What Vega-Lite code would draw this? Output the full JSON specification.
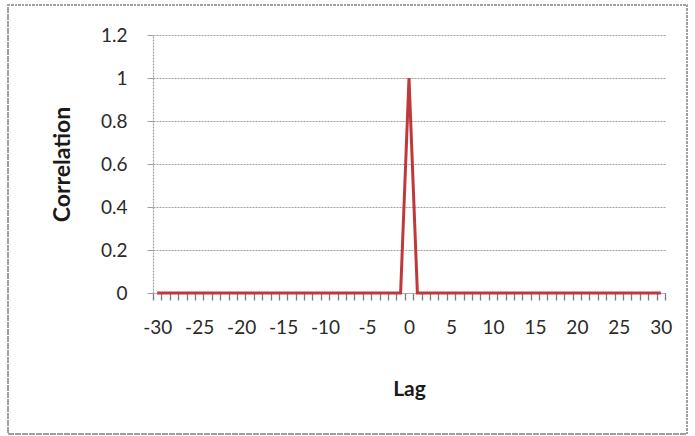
{
  "$schema": "https://vega.github.io/schema/vega-lite/v6.json",
  "width": 512,
  "height": 258,
  "autosize": "none",
  "padding": {"left": 153, "top": 35, "right": 30, "bottom": 143},
  "background": "white",
  "config": {
    "view": {"stroke": null},
    "font": "Lato",
    "axis": {"labelFont": "Lato", "titleFont": "Lato"}
  },
  "data": {
    "values": [
      {"lag": -30, "corr": 0}, {"lag": -29, "corr": 0}, {"lag": -28, "corr": 0}, {"lag": -27, "corr": 0},
      {"lag": -26, "corr": 0}, {"lag": -25, "corr": 0}, {"lag": -24, "corr": 0}, {"lag": -23, "corr": 0},
      {"lag": -22, "corr": 0}, {"lag": -21, "corr": 0}, {"lag": -20, "corr": 0}, {"lag": -19, "corr": 0},
      {"lag": -18, "corr": 0}, {"lag": -17, "corr": 0}, {"lag": -16, "corr": 0}, {"lag": -15, "corr": 0},
      {"lag": -14, "corr": 0}, {"lag": -13, "corr": 0}, {"lag": -12, "corr": 0}, {"lag": -11, "corr": 0},
      {"lag": -10, "corr": 0}, {"lag": -9, "corr": 0}, {"lag": -8, "corr": 0}, {"lag": -7, "corr": 0},
      {"lag": -6, "corr": 0}, {"lag": -5, "corr": 0}, {"lag": -4, "corr": 0}, {"lag": -3, "corr": 0},
      {"lag": -2, "corr": 0}, {"lag": -1, "corr": 0}, {"lag": 0, "corr": 1}, {"lag": 1, "corr": 0},
      {"lag": 2, "corr": 0}, {"lag": 3, "corr": 0}, {"lag": 4, "corr": 0}, {"lag": 5, "corr": 0},
      {"lag": 6, "corr": 0}, {"lag": 7, "corr": 0}, {"lag": 8, "corr": 0}, {"lag": 9, "corr": 0},
      {"lag": 10, "corr": 0}, {"lag": 11, "corr": 0}, {"lag": 12, "corr": 0}, {"lag": 13, "corr": 0},
      {"lag": 14, "corr": 0}, {"lag": 15, "corr": 0}, {"lag": 16, "corr": 0}, {"lag": 17, "corr": 0},
      {"lag": 18, "corr": 0}, {"lag": 19, "corr": 0}, {"lag": 20, "corr": 0}, {"lag": 21, "corr": 0},
      {"lag": 22, "corr": 0}, {"lag": 23, "corr": 0}, {"lag": 24, "corr": 0}, {"lag": 25, "corr": 0},
      {"lag": 26, "corr": 0}, {"lag": 27, "corr": 0}, {"lag": 28, "corr": 0}, {"lag": 29, "corr": 0},
      {"lag": 30, "corr": 0}
    ]
  },
  "layer": [
    {
      "mark": {"type": "rect", "fill": "white", "fillOpacity": 0, "stroke": "#a0a0a0", "strokeWidth": 1.5, "strokeDash": [2, 1.5], "clip": false},
      "encoding": {
        "x": {
          "datum": -47.78, "type": "quantitative",
          "scale": {"domain": [-30.5, 30.5], "nice": false, "zero": false},
          "axis": null
        },
        "x2": {"datum": 33.13},
        "y": {
          "datum": 1.3395, "type": "quantitative",
          "scale": {"domain": [0, 1.2], "nice": false, "zero": false},
          "axis": null
        },
        "y2": {"datum": -0.656}
      }
    },
    {
      "mark": {"type": "line", "color": "#C0393A", "strokeWidth": 3, "strokeJoin": "miter"},
      "encoding": {
        "x": {
          "field": "lag", "type": "quantitative",
          "scale": {"domain": [-30.5, 30.5], "nice": false, "zero": false},
          "axis": {
            "orient": "bottom",
            "values": [-30.5,-29.5,-28.5,-27.5,-26.5,-25.5,-24.5,-23.5,-22.5,-21.5,-20.5,-19.5,-18.5,-17.5,-16.5,-15.5,-14.5,-13.5,-12.5,-11.5,-10.5,-9.5,-8.5,-7.5,-6.5,-5.5,-4.5,-3.5,-2.5,-1.5,-0.5,0.5,1.5,2.5,3.5,4.5,5.5,6.5,7.5,8.5,9.5,10.5,11.5,12.5,13.5,14.5,15.5,16.5,17.5,18.5,19.5,20.5,21.5,22.5,23.5,24.5,25.5,26.5,27.5,28.5,29.5,30.5],
            "labelExpr": "((datum.value + 0.5) % 5 == 0 && datum.value < 30) ? ((datum.value + 0.5) < 0 ? '-' + abs(datum.value + 0.5) : '' + (datum.value + 0.5)) : ''",
            "labelOffset": 4.2,
            "labelOverlap": false,
            "labelBound": false,
            "labelFlush": false,
            "ticks": true, "tickSize": 7, "tickColor": "#7a7a7a", "tickWidth": 1.3, "tickOpacity": 1, "tickDash": [],
            "grid": false,
            "domain": true, "domainColor": "#a0a0a0", "domainDash": [2, 1], "domainWidth": 1.2,
            "labelFontSize": 19, "labelColor": "#2a2a2a", "labelPadding": 18,
            "title": "Lag", "titleFontSize": 21, "titleFontWeight": "bold", "titleColor": "#1a1a1a",
            "titleX": 256, "titleY": 96, "titleBaseline": "middle", "titleAlign": "center"
          }
        },
        "y": {
          "field": "corr", "type": "quantitative",
          "scale": {"domain": [0, 1.2], "nice": false, "zero": false},
          "axis": {
            "values": [0, 0.2, 0.4, 0.6, 0.8, 1, 1.2],
            "format": ".1~f",
            "grid": true, "gridColor": "#a0a0a0", "gridDash": [2, 1], "gridWidth": 1.2,
            "domain": true, "domainColor": "#a0a0a0", "domainDash": [2, 1], "domainWidth": 1.2,
            "ticks": true, "tickSize": 6, "tickColor": "#a0a0a0",
            "labelFontSize": 19, "labelColor": "#2a2a2a", "labelPadding": 20,
            "title": "Correlation", "titleFontSize": 23, "titleFontWeight": "bold", "titleColor": "#1a1a1a",
            "titleX": -91, "titleY": 129, "titleAngle": -90, "titleBaseline": "middle", "titleAlign": "center"
          }
        }
      }
    }
  ],
  "resolve": {"axis": {"x": "independent", "y": "independent"}}
}
